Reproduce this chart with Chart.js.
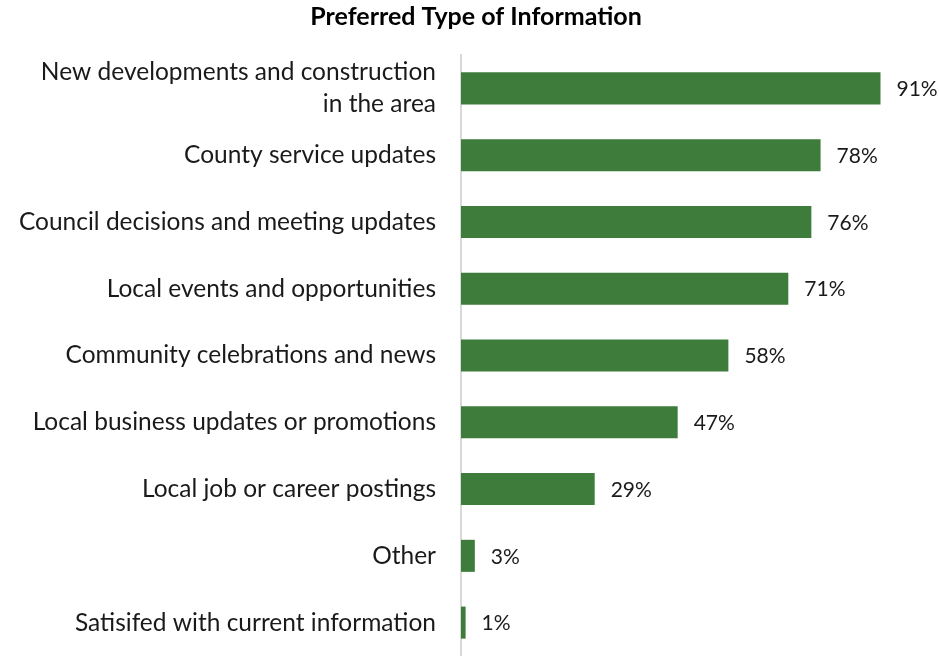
<!DOCTYPE html>
<html>
<head>
<meta charset="utf-8">
<script src="https://cdn.jsdelivr.net/npm/chart.js@4"></script>
<style>
  html, body { margin: 0; padding: 0; background: #fff; overflow: hidden; }
  #wrap { width: 940px; height: 656px; }
</style>
</head>
<body>
<div id="wrap"><canvas id="chart"></canvas></div>
<script>
const categories = [
  ["New developments and construction", "in the area"],
  "County service updates",
  "Council decisions and meeting updates",
  "Local events and opportunities",
  "Community celebrations and news",
  "Local business updates or promotions",
  "Local job or career postings",
  "Other",
  "Satisifed with current information",
];
const values = [91, 78, 76, 71, 58, 47, 29, 3, 1];
const valueLabels = ["91%", "78%", "76%", "71%", "58%", "47%", "29%", "3%", "1%"];

const FONT = "Lato, 'Open Sans', sans-serif";

// value text just right of each bar
const barLabels = {
  id: "barLabels",
  afterDatasetsDraw(chart) {
    const ctx = chart.ctx;
    const meta = chart.getDatasetMeta(0);
    ctx.save();
    ctx.font = "21px " + FONT;
    ctx.fillStyle = "#1a1a1a";
    ctx.textAlign = "left";
    ctx.textBaseline = "middle";
    meta.data.forEach((bar, i) => {
      ctx.fillText(valueLabels[i], bar.x + 16, bar.y + 1);
    });
    ctx.restore();
  }
};

// title in the reference is centred a bit right of the canvas centre
const titleShift = {
  id: "titleShift",
  afterLayout(chart) {
    if (chart.titleBlock) chart.titleBlock.left = 30;
  }
};

new Chart(document.getElementById("chart"), {
  type: "bar",
  data: {
    labels: categories,
    datasets: [{
      data: values,
      backgroundColor: "#3e7c3b",
      categoryPercentage: 1,
      barPercentage: 0.48,
    }],
  },
  options: {
    indexAxis: "y",
    responsive: true,
    maintainAspectRatio: false,
    animation: false,
    layout: { padding: { left: 0, right: 18, bottom: -3 } },
    plugins: {
      legend: { display: false },
      tooltip: { enabled: false },
      title: {
        display: true,
        text: "Preferred Type of Information",
        color: "#000",
        font: { family: FONT, size: 25, weight: "bold" },
        padding: { top: 2, bottom: 23 },
      },
    },
    scales: {
      x: { display: false, min: 0, max: 100 },
      y: {
        afterFit: s => { s.width = 461; s.paddingTop = 0; s.paddingBottom = 0; },
        grid: { display: false, drawTicks: false },
        border: { color: "#d9d9d9", width: 2 },
        ticks: {
          color: "#1a1a1a",
          padding: 25,
          font: { family: FONT, size: 24.5, lineHeight: 1.3 },
        },
      },
    },
  },
  plugins: [barLabels, titleShift],
});
</script>
</body>
</html>
